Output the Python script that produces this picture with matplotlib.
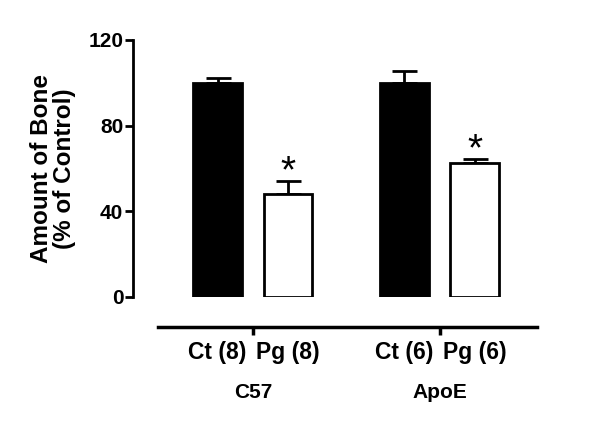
import matplotlib.pyplot as plt

plt.rcParams['font.family'] = ['Liberation Sans', 'DejaVu Sans']
plt.rcParams['font.weight'] = 'bold'

# data
bar_labels = ["Ct (8)", "Pg (8)", "Ct (6)", "Pg (6)"]
groups = ["C57", "ApoE"]
means = [100.0, 48.0, 100.0, 62.7]
sem = [2.2, 6.3, 5.4, 1.9]
signif = [False, True, False, True]
colors = ["black", "white", "black", "white"]

xpos = [1.0, 2.0, 3.65, 4.65]
group_x = [1.5, 4.15]

fig = plt.figure(figsize=(6, 4.25), dpi=100)
ax = fig.add_axes([0.2217, 0.3012, 0.673, 0.6047])

ax.bar(xpos, means, width=0.69, color=colors, edgecolor="black", linewidth=2, zorder=3)
ax.errorbar(xpos, means, yerr=[[0] * 4, sem], fmt="none", ecolor="black",
            elinewidth=2, capsize=9, capthick=2, zorder=2)

for x, m, s, sig in zip(xpos, means, sem, signif):
    if sig:
        ax.text(x, m + s - 4.5, "*", ha="center", va="bottom", fontsize=28,
                fontweight="normal")

ax.set_ylim(0, 120)
ax.set_xlim(-0.2, 5.53)
ax.set_yticks([0, 40, 80, 120])
ax.tick_params(axis="y", labelsize=15, width=2, length=6, pad=1)

ax.spines["top"].set_visible(False)
ax.spines["right"].set_visible(False)
ax.spines["left"].set_linewidth(2)
ax.spines["bottom"].set_linewidth(2.5)
ax.spines["bottom"].set_position(("outward", 21.6))
ax.spines["bottom"].set_bounds(0.155, 5.53)

ax.set_xticks(group_x)
ax.set_xticklabels([])
ax.tick_params(axis="x", width=2.5, length=6, direction="out")

tr = ax.get_xaxis_transform()
for x, lab in zip(xpos, bar_labels):
    ax.text(x, -0.215, lab, transform=tr, ha="center", va="center", fontsize=16.5,
            fontweight="bold")
for x, g in zip(group_x, groups):
    ax.text(x, -0.37, g, transform=tr, ha="center", va="center", fontsize=15,
            fontweight="bold")

ax.set_ylabel("Amount of Bone\n(% of Control)", fontsize=17.5, fontweight="bold",
              linespacing=1.0, labelpad=9)

fig.savefig("out.png", dpi=100)
